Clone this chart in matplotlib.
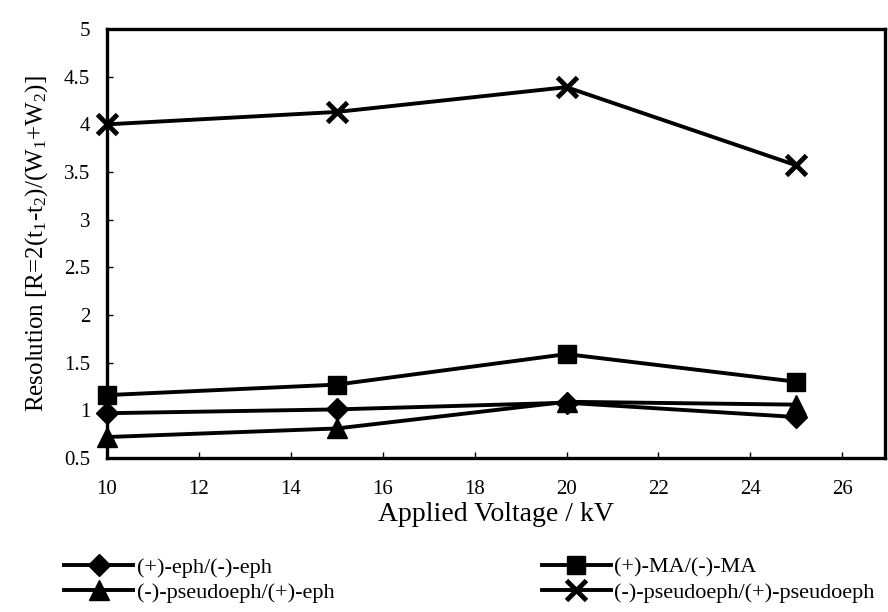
import matplotlib
matplotlib.use("Agg")
import matplotlib.pyplot as plt
from matplotlib.ticker import FormatStrFormatter, MultipleLocator

# ----------------------------------------------------------------------
# data
# ----------------------------------------------------------------------
voltage = [10, 15, 20, 25]

eph_eph = [0.97, 1.01, 1.08, 0.93]          # (+)-eph/(-)-eph
ma_ma = [1.16, 1.27, 1.59, 1.30]            # (+)-MA/(-)-MA
pseudo_eph = [0.72, 0.81, 1.09, 1.06]       # (-)-pseudoeph/(+)-eph
pseudo_pseudo = [4.00, 4.13, 4.39, 3.57]    # (-)-pseudoeph/(+)-pseudoeph

labels = ["(+)-eph/(-)-eph", "(-)-pseudoeph/(+)-eph",
          "(+)-MA/(-)-MA", "(-)-pseudoeph/(+)-pseudoeph"]

x_ticks = [10, 12, 14, 16, 18, 20, 22, 24, 26]

plt.rcParams["font.family"] = ["Liberation Serif", "DejaVu Serif"]
plt.rcParams["mathtext.fontset"] = "custom"
plt.rcParams["mathtext.rm"] = "Liberation Serif"
plt.rcParams["mathtext.it"] = "Liberation Serif"

fig = plt.figure(figsize=(8.88, 6.12), dpi=100)
ax = fig.add_axes([0.1205, 0.2516, 0.8761, 0.7010])

lw = 2.8
common = dict(color="black", linewidth=lw, clip_on=False, zorder=3)
ax.plot(voltage, eph_eph, marker="D", markersize=11, label=labels[0], **common)
ax.plot(voltage, pseudo_eph, marker="^", markersize=15, label=labels[1], **common)
ax.plot(voltage, ma_ma, marker="s", markersize=13.5, label=labels[2], **common)
ax.plot(voltage, pseudo_pseudo, marker="x", markersize=14, markeredgewidth=3.5,
        label=labels[3], **common)

ax.set_xlim(10, 26.93)
ax.set_ylim(0.5, 5)
ax.set_xticks(x_ticks)
ax.yaxis.set_major_locator(MultipleLocator(0.5))
ax.yaxis.set_major_formatter(FormatStrFormatter("%g"))
ax.tick_params(direction="in", length=4, width=1, labelsize=15)
ax.tick_params(axis="x", pad=16)
ax.tick_params(axis="y", pad=12)
for s in ax.spines.values():
    s.set_linewidth(2.4)

ax.set_xlabel("Applied Voltage / kV", fontsize=20, labelpad=2)
ax.set_ylabel("Resolution [R=2(t$_1$-t$_2$)/(W$_1$+W$_2$)]", fontsize=18, labelpad=10)

# legend sits below the axes in two columns
fig.legend(loc="upper left", bbox_to_anchor=(0.060, 0.108), ncol=2,
           frameon=False, fontsize=16, handlelength=3.1, handletextpad=0.15,
           columnspacing=9.35, labelspacing=0.2, borderpad=0)

fig.savefig("out.png", dpi=100)
